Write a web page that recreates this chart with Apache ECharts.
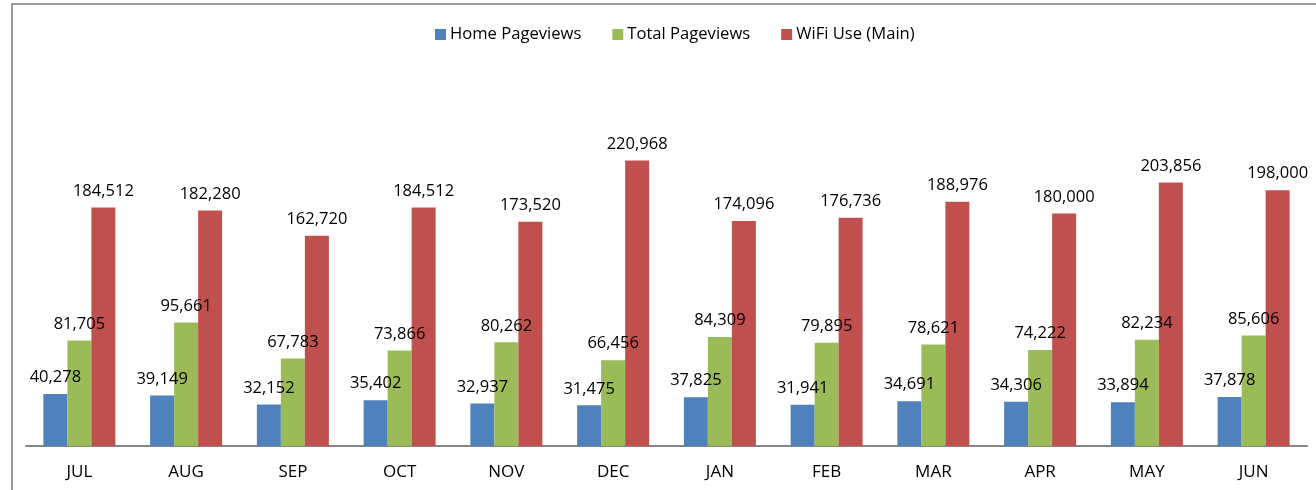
<!DOCTYPE html>
<html>
<head>
<meta charset="utf-8">
<script src="https://cdn.jsdelivr.net/npm/echarts@6/dist/echarts.min.js"></script>
<style>
  html, body { margin: 0; padding: 0; background: #fff; }
  #main { width: 1316px; height: 490px; }
</style>
</head>
<body>
<div id="main"></div>
<script>
// monthly figures
const months = ["JUL", "AUG", "SEP", "OCT", "NOV", "DEC", "JAN", "FEB", "MAR", "APR", "MAY", "JUN"]
const homePageviews = [40278, 39149, 32152, 35402, 32937, 31475, 37825, 31941, 34691, 34306, 33894, 37878]
const totalPageviews = [81705, 95661, 67783, 73866, 80262, 66456, 84309, 79895, 78621, 74222, 82234, 85606]
const wifiUse = [184512, 182280, 162720, 184512, 173520, 220968, 174096, 176736, 188976, 180000, 203856, 198000]

const font = "'Open Sans', 'Liberation Sans', sans-serif"

const barSeries = (name, data, color) => ({
  name: name,
  type: "bar",
  data: data,
  barWidth: 24,
  barGap: "0%",
  itemStyle: { color: color },
  label: {
    show: true,
    position: "top",
    distance: 8,
    color: "#000",
    fontFamily: font,
    fontSize: 16.5,
    formatter: p => p.value.toLocaleString("en-US")
  }
})

let chart = echarts.init(document.getElementById("main"))

chart.setOption({
  animation: false,
  textStyle: { fontFamily: font },
  graphic: [{
    type: "rect",
    shape: { x: 12, y: 4, width: 1400, height: 600 },
    style: { fill: "none", stroke: "#9a9a9a", lineWidth: 2 },
    silent: true
  }],
  legend: {
    top: 21,
    left: 430,
    itemWidth: 11,
    itemHeight: 11,
    itemGap: 31,
    icon: "rect",
    textStyle: { fontSize: 16.6, color: "#000", fontFamily: font, padding: [0, 0, 0, -1] }
  },
  grid: { left: 26, right: 9, top: 123, bottom: 44 },
  xAxis: {
    type: "category",
    data: months,
    axisLine: { lineStyle: { color: "#868686", width: 2 } },
    axisTick: { show: false },
    axisLabel: { color: "#000", fontSize: 17, margin: 18, fontFamily: font }
  },
  yAxis: {
    type: "value",
    min: 0,
    max: 250000,
    show: false,
    splitLine: { show: false }
  },
  series: [
    barSeries("Home Pageviews", homePageviews, "#4F81BD"),
    barSeries("Total Pageviews", totalPageviews, "#9BBB59"),
    barSeries("WiFi Use (Main)", wifiUse, "#C0504D")
  ]
})
</script>
</body>
</html>
